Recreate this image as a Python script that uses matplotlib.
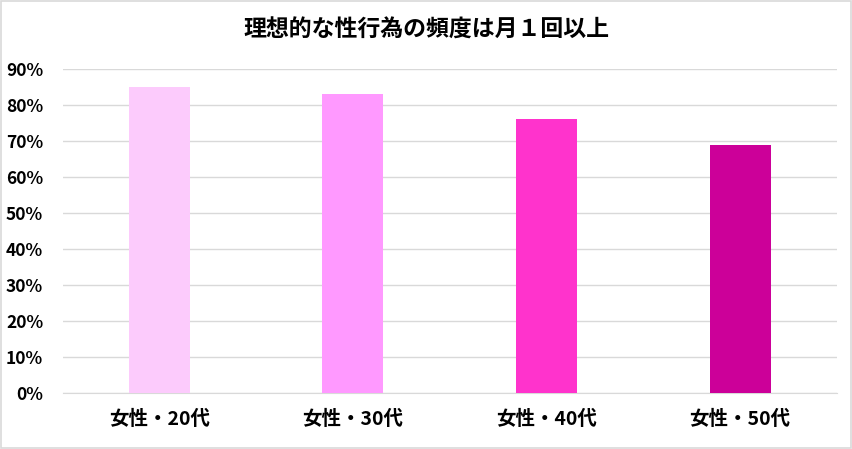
import matplotlib as mpl
mpl.use('Agg')
from matplotlib import pyplot as plt
from matplotlib.patches import Rectangle
from matplotlib.ticker import PercentFormatter

plt.rcParams['font.family'] = ['Noto Sans CJK JP', 'DejaVu Sans']

title = '理想的な性行為の頻度は月１回以上'
categories = ['女性・20代', '女性・30代', '女性・40代', '女性・50代']
values = [85, 83, 76, 69]
colors = ['#FCCBFC', '#FF99FF', '#FF33CC', '#CC0099']

fig = plt.figure(figsize=(8.53, 4.49), dpi=100)
ax = fig.add_axes([0.0734, 0.1247, 0.9076, 0.7216])

x = range(len(categories))
ax.bar(x, values, width=0.315, color=colors, zorder=3)

ax.set_xlim(-0.5, len(categories) - 0.5)
ax.set_ylim(0, 90)
ax.set_yticks(range(0, 91, 10))
ax.yaxis.set_major_formatter(PercentFormatter(decimals=0))
ax.set_xticks(list(x))
ax.set_xticklabels(categories)

ax.grid(axis='y', color='#D9D9D9', linewidth=1, zorder=0)
for s in ['top', 'right', 'left']:
    ax.spines[s].set_visible(False)
ax.spines['bottom'].set_color('#D9D9D9')
ax.tick_params(axis='both', length=0)
ax.tick_params(axis='y', pad=14, labelsize=12.5)
ax.tick_params(axis='x', pad=12, labelsize=14)
for lbl in ax.get_xticklabels() + ax.get_yticklabels():
    lbl.set_fontweight('bold')

fig.text(0.5, 0.933, title, ha='center', va='center', fontsize=16.5, fontweight='bold')

# chart border
fig.patches.append(Rectangle((0.001, 0.002), 0.997, 0.996, transform=fig.transFigure,
                             fill=False, edgecolor='#D9D9D9', linewidth=1.2))

fig.savefig('out.png', dpi=100)
